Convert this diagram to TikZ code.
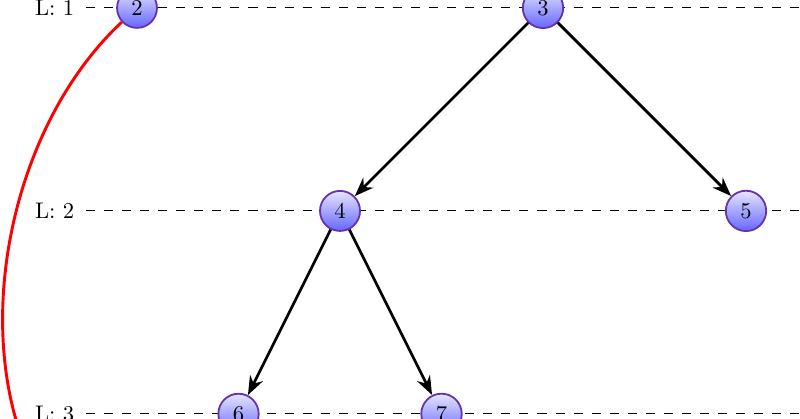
\documentclass[tikz,border=0pt]{standalone}
\usetikzlibrary{arrows.meta, positioning}

\definecolor{nodeline}{RGB}{102,51,170}

\begin{document}
\begin{tikzpicture}[x=3.16cm, y=3.16cm,
  vert/.style={circle, draw=nodeline, thick, top color=blue!10, bottom color=blue!60},
  lvl/.style={inner sep=5pt},
  guide/.style={dash pattern=on 4pt off 4pt},
  arr/.style={-Stealth, very thick}]
\clip (-0.675,-2.025) rectangle (3.266,0.039);
% level lines
\foreach \l in {1,2,3} {
  \node[lvl] (L\l) at (-0.406,1-\l) {L: \l};
  \coordinate (R\l) at (3.4,1-\l);
  \draw[guide] (L\l.east) -- (R\l);
}
% tree
\node[vert] (n2) at (0,0) {2};
\node[vert] (n3) at (2,0) {3};
\node[vert] (n4) at (1,-1) {4};
\node[vert] (n5) at (3,-1) {5};
\node[vert] (n6) at (0.5,-2) {6};
\node[vert] (n7) at (1.5,-2) {7};
\draw[arr] (n3) -- (n4);
\draw[arr] (n3) -- (n5);
\draw[arr] (n4) -- (n6);
\draw[arr] (n4) -- (n7);
% back link
\coordinate (tail) at (-0.596,-2.03);
\draw[red, line width=1.3pt] (n2) to[out=223, in=106, looseness=0.85] (tail);
\end{tikzpicture}
\end{document}
